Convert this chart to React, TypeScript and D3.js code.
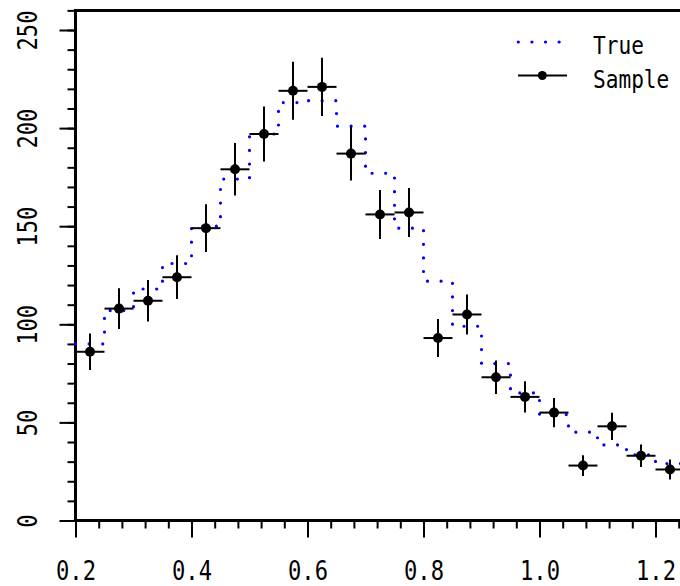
import React, { useEffect, useRef } from 'react';
import * as d3 from 'd3';

// bins of width 0.05 starting at 0.2
const binCenters = [0.225, 0.275, 0.325, 0.375, 0.425, 0.475, 0.525, 0.575, 0.625, 0.675, 0.725,
    0.775, 0.825, 0.875, 0.925, 0.975, 1.025, 1.075, 1.125, 1.175, 1.225];
const sampleCounts = [86, 108, 112, 124, 149, 179, 197, 219, 221, 187, 156, 157, 93, 105, 73, 63, 55, 28, 48, 33, 26];
const trueCounts = [90, 107, 118, 131, 150, 174, 197, 213, 214, 201, 177, 149, 122, 99, 80, 65, 54, 45, 38.5, 33.5, 29];
const xTicks = [0.2, 0.4, 0.6, 0.8, 1.0, 1.2];
const yTicks = [0, 50, 100, 150, 200, 250];
const legendLabels = ['True', 'Sample'];

const binWidth = 0.05;
const width = 680;
const height = 586;
const monoFont = '"DejaVu Sans Mono", "Liberation Mono", monospace';

const App = () => {
    const svgRef = useRef(null);

    useEffect(() => {
        document.body.style.margin = '0';
        const svg = d3.select(svgRef.current);
        svg.selectAll('*').remove();

        const x = d3.scaleLinear().domain([0.2, 1.2]).range([75.5, 655.5]);
        const y = d3.scaleLinear().domain([0, 250]).range([520.5, 30]);

        // minor ticks
        const xMinor = d3.range(0.2, 1.25, 0.04);
        const yMinor = d3.range(0, 261, 10);

        svg.append('g')
            .attr('transform', `translate(0,${y(0)})`)
            .call(d3.axisBottom(x).tickValues(xMinor).tickSize(8).tickFormat(() => ''))
            .call(g => g.select('.domain').remove())
            .call(g => g.selectAll('line').attr('stroke-width', 2));

        svg.append('g')
            .attr('transform', `translate(0,${y(0)})`)
            .call(d3.axisBottom(x).tickValues(xTicks).tickSize(17).tickPadding(0).tickFormat(d3.format('.1f')))
            .call(g => g.select('.domain').remove())
            .call(g => g.selectAll('line').attr('stroke-width', 2))
            .call(g => g.selectAll('text')
                .attr('y', null).attr('dy', null)
                .attr('transform', 'translate(0,59) scale(0.82,1)')
                .attr('font-family', monoFont)
                .attr('font-size', 27)
                .attr('fill', '#000'));

        svg.append('g')
            .attr('transform', `translate(${x(0.2)},0)`)
            .call(d3.axisLeft(y).tickValues(yMinor).tickSize(8).tickFormat(() => ''))
            .call(g => g.select('.domain').remove())
            .call(g => g.selectAll('line').attr('stroke-width', 2));

        svg.append('g')
            .attr('transform', `translate(${x(0.2)},0)`)
            .call(d3.axisLeft(y).tickValues(yTicks).tickSize(16).tickPadding(0).tickFormat(d3.format('d')))
            .call(g => g.select('.domain').remove())
            .call(g => g.selectAll('line').attr('stroke-width', 2))
            .call(g => g.selectAll('text')
                .attr('x', null).attr('dy', null)
                .attr('text-anchor', 'middle')
                .attr('transform', 'translate(-39,0) rotate(-90) scale(0.82,1)')
                .attr('font-family', monoFont)
                .attr('font-size', 27)
                .attr('fill', '#000'));

        // frame: left axis, bottom axis, top line
        svg.append('path')
            .attr('d', `M${x(0.2)},${y(0)}V${y(260)}`)
            .attr('stroke', '#000').attr('stroke-width', 3).attr('fill', 'none');
        svg.append('path')
            .attr('d', `M${x(0.2) - 1.5},${y(0)}H${width}`)
            .attr('stroke', '#000').attr('stroke-width', 3);
        svg.append('path')
            .attr('d', `M${x(0.2) - 1.5},${y(260)}H${width}`)
            .attr('stroke', '#000').attr('stroke-width', 3);

        // true distribution as step line
        const stepPts = binCenters.map((c, i) => [c - binWidth / 2, trueCounts[i]]);
        stepPts.push([binCenters[binCenters.length - 1] + binWidth / 2, trueCounts[trueCounts.length - 1]]);
        const line = d3.line().x(d => x(d[0])).y(d => y(d[1])).curve(d3.curveStepAfter);
        svg.append('path')
            .attr('d', line(stepPts))
            .attr('fill', 'none')
            .attr('stroke', '#0000ff')
            .attr('stroke-width', 3.2)
            .attr('stroke-linecap', 'round')
            .attr('stroke-dasharray', '0.01 13.6');

        // sample points with poisson errors
        const pts = svg.append('g').attr('stroke', '#000').attr('stroke-width', 2);
        binCenters.forEach((c, i) => {
            const n = sampleCounts[i];
            const e = Math.sqrt(n);
            pts.append('line')
                .attr('x1', x(c - binWidth / 2)).attr('x2', x(c + binWidth / 2))
                .attr('y1', y(n)).attr('y2', y(n));
            pts.append('line')
                .attr('x1', x(c)).attr('x2', x(c))
                .attr('y1', y(n - e)).attr('y2', y(n + e));
            pts.append('circle')
                .attr('cx', x(c)).attr('cy', y(n)).attr('r', 5)
                .attr('fill', '#000').attr('stroke', 'none');
        });

        // legend
        const lg = svg.append('g');
        lg.append('path')
            .attr('d', 'M518.3,42H559.5')
            .attr('stroke', '#0000ff').attr('stroke-width', 3.2)
            .attr('stroke-linecap', 'round').attr('stroke-dasharray', '0.01 13.6');
        lg.append('path')
            .attr('d', 'M518,75.5H567')
            .attr('stroke', '#000').attr('stroke-width', 2);
        lg.append('circle').attr('cx', 542.3).attr('cy', 75.5).attr('r', 4.5).attr('fill', '#000');
        legendLabels.forEach((t, i) => {
            lg.append('text')
                .attr('transform', `translate(593,${i === 0 ? 54 : 87.5}) scale(0.88,1)`)
                .attr('font-family', monoFont)
                .attr('font-size', 24)
                .attr('fill', '#000')
                .text(t);
        });
    }, []);

    return (
        <svg ref={svgRef} width={width} height={height}
            style={{ position: 'absolute', left: 0, top: 0, background: '#fff' }}></svg>
    );
};

export default App;
